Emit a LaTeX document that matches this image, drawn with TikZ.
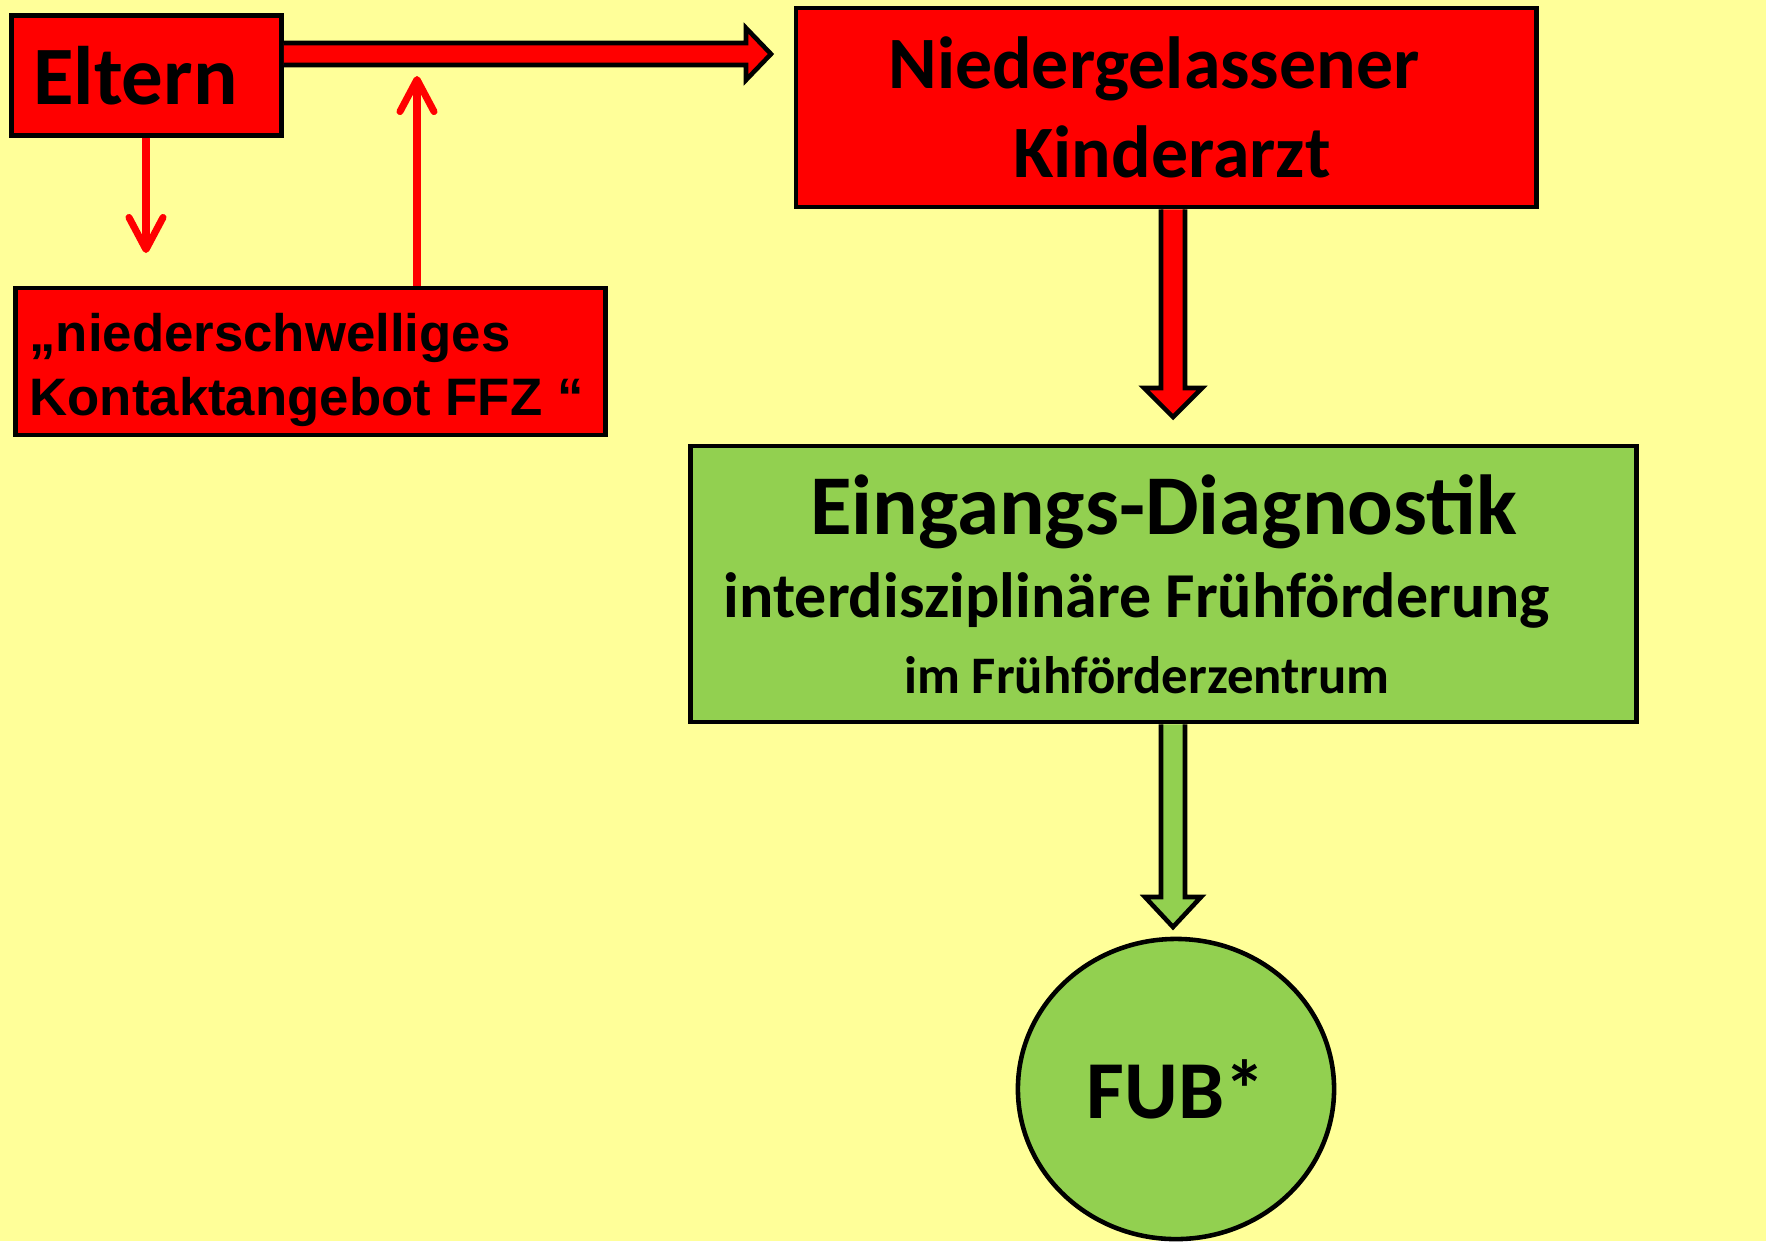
\documentclass[tikz,border=0pt]{standalone}
\usepackage{fontspec}
\setmainfont{Carlito}
\newfontfamily\arialfont{Liberation Sans}
\usetikzlibrary{arrows.meta,positioning,calc,shapes.geometric}
\definecolor{bgyellow}{HTML}{FFFF99}
\definecolor{boxred}{HTML}{FF0000}
\definecolor{boxgreen}{HTML}{92D050}

\begin{document}
\begin{tikzpicture}[x=0.01cm,y=-0.01cm,
 redbox/.style={draw=black,fill=boxred,line width=1.3pt,inner sep=0pt},
 greenbox/.style={draw=black,fill=boxgreen,line width=1.3pt,inner sep=0pt},
 thinarr/.style={-{Straight Barb[length=3.2mm,width=3.4mm,round]},draw=boxred,line width=2pt},
 blockred/.style={draw=black,fill=boxred,line width=1.3pt,line join=miter},
 blockgreen/.style={draw=black,fill=boxgreen,line width=1.3pt,line join=miter}
]
\fill[bgyellow] (0,0) rectangle (1766,1241);
\useasboundingbox (0,0) rectangle (1766,1241);

% boxes
\node[redbox,minimum width=2.70cm,minimum height=1.20cm,font=\fontsize{23.6}{28}\selectfont\bfseries] (eltern) at (146.5,75.5) {Eltern\hspace*{0.22cm}};
\node[redbox,minimum width=7.40cm,minimum height=1.99cm,align=center,font=\fontsize{21}{25.3}\selectfont\bfseries] (arzt) at (1166,107.5) {Niedergelassener\hspace*{0.24cm}\\\hspace*{0.12cm}Kinderarzt};
\node[redbox,minimum width=5.90cm,minimum height=1.47cm,align=left,font=\arialfont\fontsize{15}{18.2}\selectfont\bfseries] (kontakt) at (310.5,361.5) {\rule{0pt}{15.4pt}„niederschwelliges\\Kontaktangebot FFZ “\hspace*{0.08cm}};
\node[greenbox,minimum width=9.45cm,minimum height=2.76cm,text width=9.2cm,align=flush center,font=\fontsize{18.2}{23.6}\selectfont\bfseries] (diag) at (1163.5,584) {{\fontsize{24.2}{29}\selectfont Eingangs-Diagnostik}\\\hspace*{-0.53cm}interdisziplinäre Frühförderung\\[-2pt]{\fontsize{15}{18}\selectfont\hspace*{-0.33cm}im Frühförderzentrum}};
\node[greenbox,ellipse,minimum width=3.16cm,minimum height=3.0cm,font=\fontsize{23.4}{27}\selectfont\bfseries] (fub) at (1176,1089) {FUB*};

% block arrows
\coordinate (tipa) at (771,54);
\filldraw[blockred] ($(eltern.east|-tipa)+(0,-11)$) -- ($(tipa)+(-25,-11)$) -- ($(tipa)+(-25,-26)$) -- (tipa) -- ($(tipa)+(-25,26)$) -- ($(tipa)+(-25,11)$) -- ($(eltern.east|-tipa)+(0,11)$);
\coordinate (tipb) at (1173,417);
\filldraw[blockred] ($(arzt.south-|tipb)+(-12,0)$) -- ($(tipb)+(-12,-29)$) -- ($(tipb)+(-29,-29)$) -- (tipb) -- ($(tipb)+(29,-29)$) -- ($(tipb)+(12,-29)$) -- ($(arzt.south-|tipb)+(12,0)$);
\coordinate (tipc) at (1173,927);
\filldraw[blockgreen] ($(diag.south-|tipc)+(-12,0)$) -- ($(tipc)+(-12,-30)$) -- ($(tipc)+(-28,-30)$) -- (tipc) -- ($(tipc)+(28,-30)$) -- ($(tipc)+(12,-30)$) -- ($(diag.south-|tipc)+(12,0)$);

% thin arrows
\coordinate (downtip) at (146,253);
\draw[thinarr] (eltern.south-|downtip) -- (downtip);
\coordinate (uptip) at (417,76);
\draw[thinarr] (kontakt.north-|uptip) -- (uptip);
\end{tikzpicture}
\end{document}
